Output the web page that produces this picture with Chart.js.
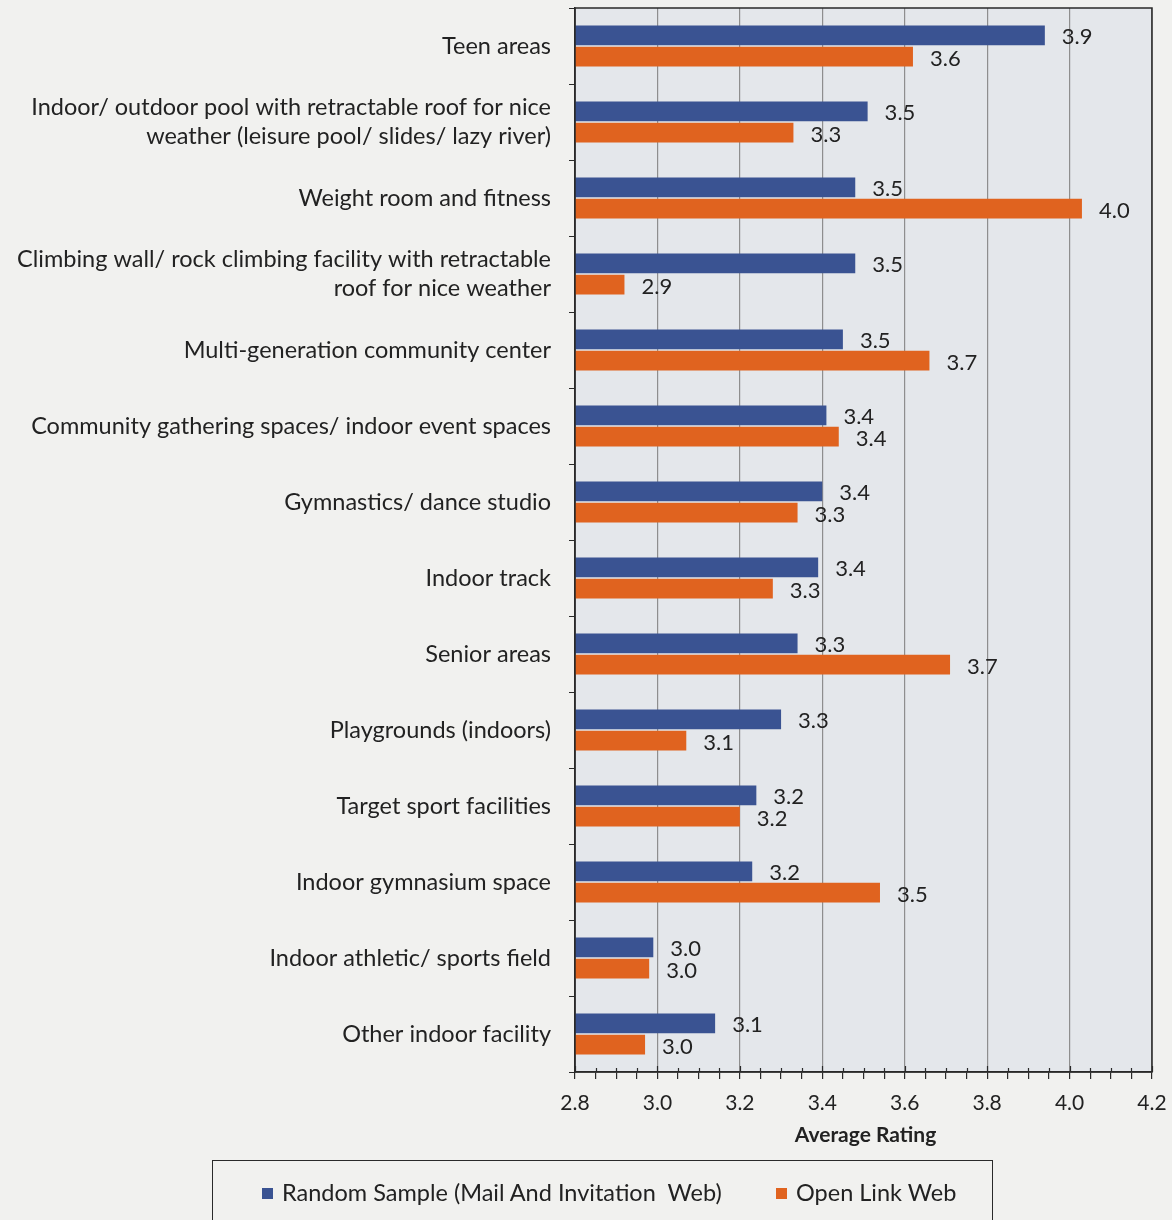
<!DOCTYPE html>
<html><head><meta charset="utf-8">
<script src="https://cdn.jsdelivr.net/npm/chart.js@4.4.1/dist/chart.umd.min.js"></script>
<style>
html,body{margin:0;padding:0;background:#f1f1ef;}
#wrap{position:relative;width:1172px;height:1220px;overflow:hidden;}
#c{position:absolute;left:0;top:0;}
#legend{position:absolute;left:212px;top:1160px;width:781px;height:62px;border:1.5px solid #2a2a2a;box-sizing:border-box;font-family:Lato,"Open Sans",sans-serif;font-size:23.5px;color:#222;}
.li{position:absolute;top:17px;white-space:nowrap;line-height:28px;}
.sw{display:inline-block;width:11px;height:11px;margin-right:9px;vertical-align:2px;}
</style></head>
<body><div id="wrap"><canvas id="c" width="1172" height="1220"></canvas>
<div id="legend">
<div class="li" style="left:49px"><span class="sw" style="background:#3a5392"></span>Random Sample (Mail And Invitation&nbsp; Web)</div>
<div class="li" style="left:563px"><span class="sw" style="background:#e0631f"></span>Open Link Web</div>
</div></div>
<script>
const categories = [
  ["Teen areas"],
  ["Indoor/ outdoor pool with retractable roof for nice", "weather (leisure pool/ slides/ lazy river)"],
  ["Weight room and fitness"],
  ["Climbing wall/ rock climbing facility with retractable", "roof for nice weather"],
  ["Multi-generation community center"],
  ["Community gathering spaces/ indoor event spaces"],
  ["Gymnastics/ dance studio"],
  ["Indoor track"],
  ["Senior areas"],
  ["Playgrounds (indoors)"],
  ["Target sport facilities"],
  ["Indoor gymnasium space"],
  ["Indoor athletic/ sports field"],
  ["Other indoor facility"]
];
const randomSample = [3.94, 3.51, 3.48, 3.48, 3.45, 3.41, 3.40, 3.39, 3.34, 3.30, 3.24, 3.23, 2.99, 3.14];
const openLink     = [3.62, 3.33, 4.03, 2.92, 3.66, 3.44, 3.34, 3.28, 3.71, 3.07, 3.20, 3.54, 2.98, 2.97];
const seriesNames = ["Random Sample (Mail And Invitation  Web)", "Open Link Web"];
const xMin = 2.8, xMax = 4.2, majorStep = 0.2, minorStep = 0.05;

const isMajor = v => Math.abs(Math.round(v / majorStep) * majorStep - v) < 1e-6;
const FONT = 'Lato, "Open Sans", sans-serif';

const deco = {
  id: 'deco',
  beforeDraw(chart) {
    const {ctx, chartArea: a} = chart;
    ctx.save();
    ctx.fillStyle = '#e4e7eb';
    ctx.fillRect(a.left, a.top, a.right - a.left, a.bottom - a.top);
    ctx.restore();
  },
  afterDatasetsDraw(chart) {
    const ctx = chart.ctx;
    ctx.save();
    ctx.font = '22px ' + FONT;
    ctx.fillStyle = '#222';
    ctx.textAlign = 'left';
    ctx.textBaseline = 'middle';
    chart.data.datasets.forEach((ds, i) => {
      chart.getDatasetMeta(i).data.forEach((el, j) => {
        ctx.fillText(ds.data[j].toFixed(1), el.x + 17, el.y + 2);
      });
    });
    ctx.restore();
  },
  afterDraw(chart) {
    const {ctx, chartArea: a} = chart;
    const xs = chart.scales.x;
    ctx.save();
    ctx.strokeStyle = '#2a2a2a';
    ctx.lineWidth = 1.5;
    ctx.strokeRect(a.left, a.top, a.right - a.left, a.bottom - a.top);
    ctx.lineWidth = 1.2;
    ctx.beginPath();
    xs.ticks.forEach(t => {
      const px = Math.round(xs.getPixelForValue(t.value)) + 0.5;
      const len = isMajor(t.value) ? 6 : 4;
      ctx.moveTo(px, a.bottom);
      ctx.lineTo(px, a.bottom - len);
    });
    ctx.stroke();
    ctx.font = 'bold 21px ' + FONT;
    ctx.fillStyle = '#222';
    ctx.textAlign = 'center';
    ctx.textBaseline = 'middle';
    ctx.fillText('Average Rating', (a.left + a.right) / 2 + 2, a.bottom + 63);
    ctx.restore();
  }
};

new Chart(document.getElementById('c'), {
  type: 'bar',
  data: {
    labels: categories,
    datasets: [
      {label: seriesNames[0], data: randomSample, backgroundColor: '#3a5392', barPercentage: 0.92, categoryPercentage: 0.56},
      {label: seriesNames[1], data: openLink, backgroundColor: '#e0631f', barPercentage: 0.92, categoryPercentage: 0.56}
    ]
  },
  options: {
    indexAxis: 'y',
    responsive: false,
    animation: false,
    devicePixelRatio: 1,
    layout: {padding: {top: 8, right: 20, bottom: 0, left: 0}},
    plugins: {legend: {display: false}, tooltip: {enabled: false}},
    scales: {
      x: {
        type: 'linear', min: xMin, max: xMax,
        afterFit(s) { s.height = 148; s.paddingRight = 0; s.paddingLeft = 0; },
        afterBuildTicks(s) {
          const t = [];
          for (let k = 0; k <= Math.round((xMax - xMin) / minorStep); k++) t.push({value: +(xMin + k * minorStep).toFixed(2)});
          s.ticks = t;
        },
        ticks: {
          autoSkip: false, maxRotation: 0, padding: 12,
          color: '#222', font: {family: FONT, size: 21},
          callback: v => isMajor(v) ? v.toFixed(1) : ''
        },
        grid: {
          color: c => (c.tick && isMajor(c.tick.value)) ? '#8e8e8e' : 'rgba(0,0,0,0)',
          lineWidth: 1.2,
          tickColor: '#2a2a2a',
          tickLength: 7
        },
        border: {color: '#2a2a2a', width: 1.5}
      },
      y: {
        type: 'category',
        afterFit(s) { s.width = 575; s.paddingTop = 0; s.paddingBottom = 0; },
        ticks: {padding: 18, color: '#222', font: {family: FONT, size: 23.5, lineHeight: 1.2}},
        grid: {drawOnChartArea: false, drawTicks: true, tickLength: 6, tickColor: '#2a2a2a', offset: true},
        border: {color: '#2a2a2a', width: 1.5}
      }
    }
  },
  plugins: [deco]
});
</script></body></html>
